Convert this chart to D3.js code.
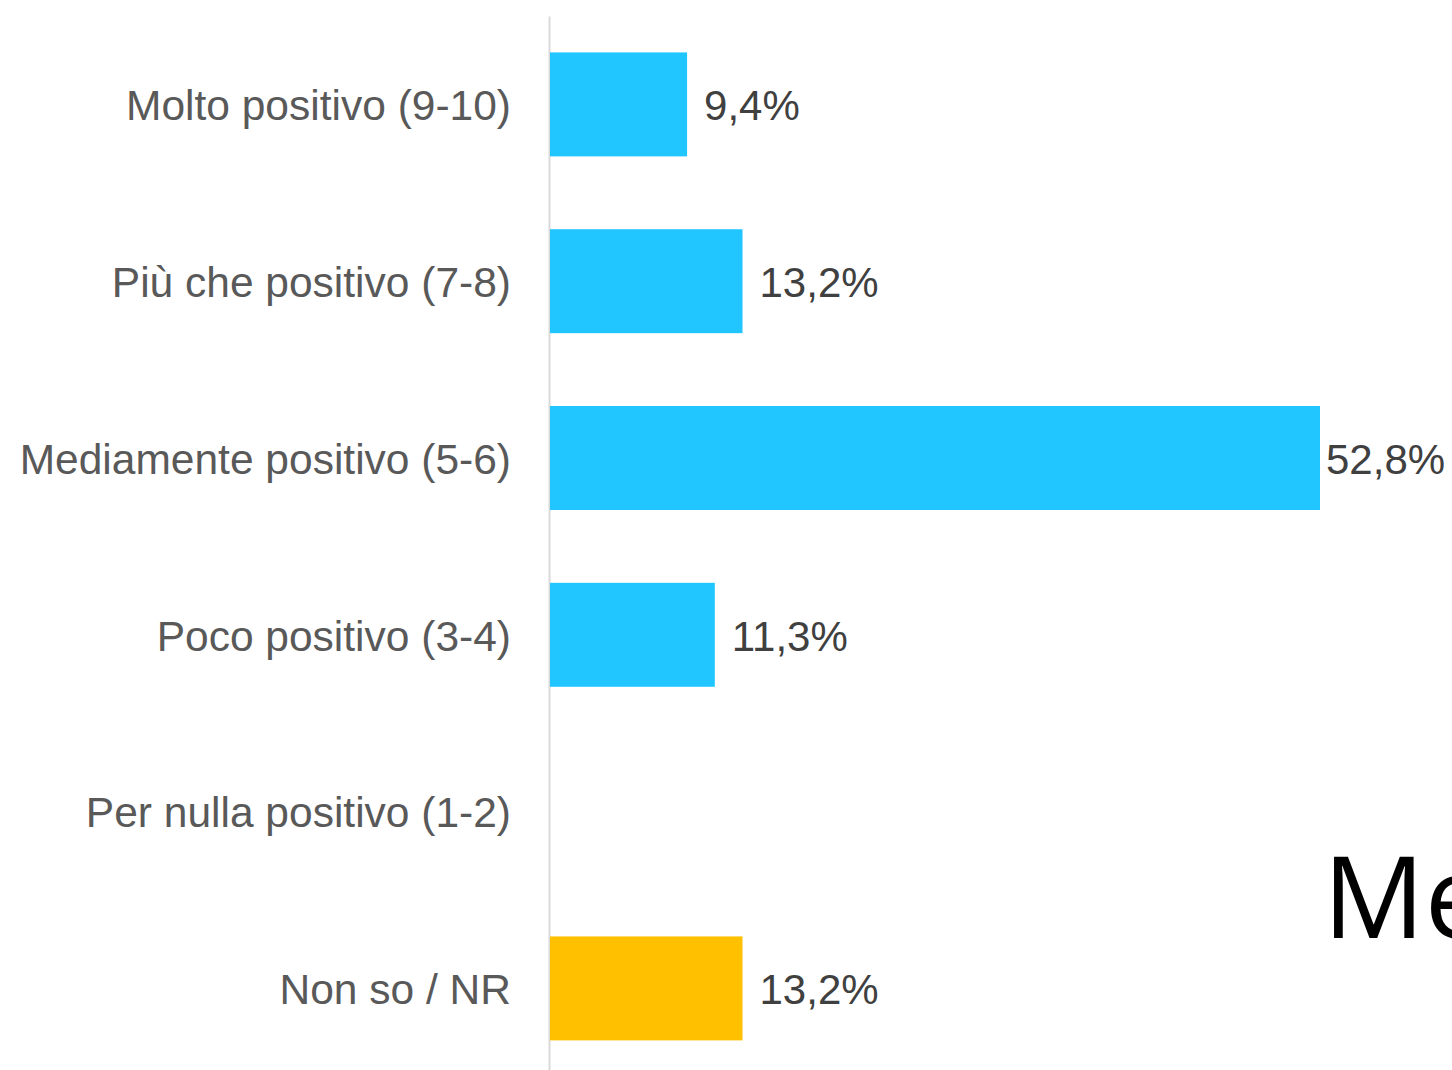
<!DOCTYPE html>
<html>
<head>
<meta charset="utf-8">
<script src="https://cdn.jsdelivr.net/npm/d3@7"></script>
<style>
  html, body { margin: 0; padding: 0; background: #fff; overflow: hidden; }
</style>
</head>
<body>
<div id="chart"></div>
<script>
// data
const categories = [
  "Molto positivo (9-10)",
  "Più che positivo (7-8)",
  "Mediamente positivo (5-6)",
  "Poco positivo (3-4)",
  "Per nulla positivo (1-2)",
  "Non so / NR"
];
const values = [9.4, 13.2, 52.8, 11.3, null, 13.2];
const valueLabels = ["9,4%", "13,2%", "52,8%", "11,3%", "", "13,2%"];
const barColors = ["#21C5FF", "#21C5FF", "#21C5FF", "#21C5FF", "#21C5FF", "#FFC000"];
const sideText = "Media";

const W = 1452, H = 1070;
const margin = { t: 16, l: 549 };

const svg = d3.select("#chart")
  .append("svg")
  .attr("width", W)
  .attr("height", H)
  .attr("viewBox", [0, 0, W, H])
  .attr("font-family", "Liberation Sans, Arial, sans-serif");

const x = d3.scaleLinear()
  .domain([0, 52.8])
  .range([margin.l + 1, 1320]);

const y = d3.scaleBand()
  .domain(categories)
  .range([margin.t, margin.t + 6 * 176.8])
  .paddingInner(0.412)
  .paddingOuter(0.206);

const data = categories.map((c, i) => ({
  cat: c, v: values[i], label: valueLabels[i], color: barColors[i]
}));

// category axis
const ay = d3.axisLeft(y).tickSize(0).tickPadding(38);
svg.append("g")
  .attr("class", "ay")
  .attr("transform", `translate(${margin.l},0)`)
  .call(ay)
  .call(g => g.select(".domain").attr("stroke", "#d9d9d9").attr("stroke-width", 2))
  .call(g => g.selectAll("text")
    .attr("font-size", 42.5)
    .attr("dy", "0.37em")
    .attr("fill", "#595959")
    .attr("font-family", "Liberation Sans, Arial, sans-serif"));

// bars
const withVal = data.filter(d => d.v != null);
svg.append("g")
  .selectAll("rect")
  .data(withVal)
  .join("rect")
  .attr("x", x(0))
  .attr("y", d => y(d.cat))
  .attr("width", d => x(d.v) - x(0))
  .attr("height", y.bandwidth())
  .attr("fill", d => d.color);

// value labels
svg.append("g")
  .selectAll("text")
  .data(withVal)
  .join("text")
  .attr("x", d => x(d.v) + (d.v > 50 ? 6 : 17))
  .attr("y", d => y(d.cat) + y.bandwidth() / 2)
  .attr("dy", "0.38em")
  .attr("font-size", 42)
  .attr("fill", "#404040")
  .text(d => d.label);

// big text, cut off at the right edge as in the reference
svg.append("text")
  .attr("x", 1323)
  .attr("y", 938)
  .attr("font-family", "Open Sans, sans-serif")
  .attr("font-size", 113)
  .attr("fill", "#000")
  .text(sideText);
</script>
</body>
</html>
